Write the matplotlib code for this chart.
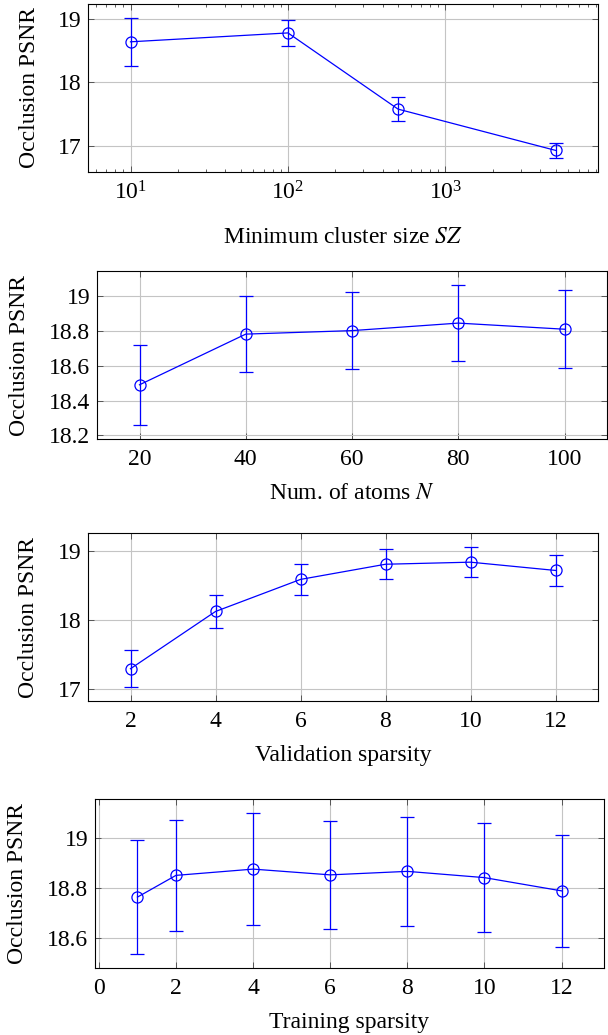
import numpy as np
import matplotlib
matplotlib.use("Agg")
import matplotlib.pyplot as plt
from matplotlib.ticker import MultipleLocator, FuncFormatter

plt.rcParams['font.family'] = ['Liberation Serif', 'DejaVu Serif']
plt.rcParams['mathtext.fontset'] = 'stix'
plt.rcParams['font.size'] = 17

# Minimum cluster size SZ
sz = [10, 100, 500, 5000]
psnr_sz = [18.64, 18.78, 17.58, 16.93]
err_sz = [0.375, 0.21, 0.19, 0.12]

# Num. of atoms N
atoms = [20, 40, 60, 80, 100]
psnr_atoms = [18.49, 18.78, 18.80, 18.843, 18.808]
err_atoms = [0.23, 0.218, 0.22, 0.218, 0.222]

# Validation sparsity
val_sp = [2, 4, 6, 8, 10, 12]
psnr_val = [17.30, 18.13, 18.595, 18.815, 18.845, 18.725]
err_val = [0.265, 0.235, 0.225, 0.215, 0.22, 0.23]

# Training sparsity
train_sp = [1, 2, 4, 6, 8, 10, 12]
psnr_train = [18.764, 18.851, 18.876, 18.853, 18.867, 18.842, 18.789]
err_train = [0.227, 0.221, 0.224, 0.216, 0.217, 0.217, 0.223]

W, H = 608, 1035
fig = plt.figure(figsize=(W / 100, H / 100), dpi=100)

# axes boxes in pixels: left, top, right, bottom
boxes = [(88, 4, 598, 172), (97, 271, 607, 439), (88, 533, 598, 701), (95, 799, 604, 968)]


def make_ax(box):
    l, t, r, b = box
    return fig.add_axes([l / W, 1 - b / H, (r - l) / W, (b - t) / H])


def enlarge(lo, hi, f=0.1):
    d = (hi - lo) * f
    return lo - d, hi + d


fmt = FuncFormatter(lambda v, p: f"{round(v, 6):g}")

panels = [
    (sz, psnr_sz, err_sz, "Minimum cluster size $SZ$", True, None, 1.0),
    (atoms, psnr_atoms, err_atoms, "Num. of atoms $N$", False, 20, 0.2),
    (val_sp, psnr_val, err_val, "Validation sparsity", False, 2, 1.0),
    (train_sp, psnr_train, err_train, "Training sparsity", False, 2, 0.2),
]
ylab_x = [-0.094, -0.131, -0.096, -0.131]
xlab_y = [-0.33, -0.26, -0.26, -0.26]

for i, (x, y, e, xlabel, logx, xstep, ystep) in enumerate(panels):
    ax = make_ax(boxes[i])
    x = np.array(x, dtype=float)
    y = np.array(y)
    e = np.array(e)
    ax.errorbar(x, y, yerr=e, color='#0000ff', lw=0.9, marker='o', ms=8,
                mfc='none', mec='#0000ff', mew=0.9, ecolor='#0000ff',
                elinewidth=0.9, capsize=5, capthick=0.9, zorder=3)
    if logx:
        ax.set_xscale('log')
        lo, hi = enlarge(np.log10(x.min()), np.log10(x.max()))
        ax.set_xlim(10 ** lo, 10 ** hi)
    else:
        ax.set_xlim(*enlarge(x.min(), x.max()))
        ax.xaxis.set_major_locator(MultipleLocator(xstep))
        ax.xaxis.set_major_formatter(fmt)
    ax.set_ylim(*enlarge((y - e).min(), (y + e).max()))
    ax.yaxis.set_major_locator(MultipleLocator(ystep))
    ax.yaxis.set_major_formatter(fmt)

    ax.grid(True, which='major', color='#c4c4c4', lw=0.8)
    ax.set_axisbelow(True)
    ax.tick_params(which='both', direction='in', top=True, right=True,
                   color='#444444', width=0.6)
    ax.tick_params(which='major', length=4.5)
    ax.tick_params(axis='x', which='major', pad=7)
    ax.tick_params(axis='y', which='major', pad=5)
    ax.tick_params(which='minor', length=2.5)
    for s in ax.spines.values():
        s.set_linewidth(0.8)

    ax.set_xlabel(xlabel)
    ax.set_ylabel("Occlusion PSNR")
    ax.yaxis.set_label_coords(ylab_x[i], 0.5)
    ax.xaxis.set_label_coords(0.5, xlab_y[i])

fig.savefig("out.png", dpi=100)
